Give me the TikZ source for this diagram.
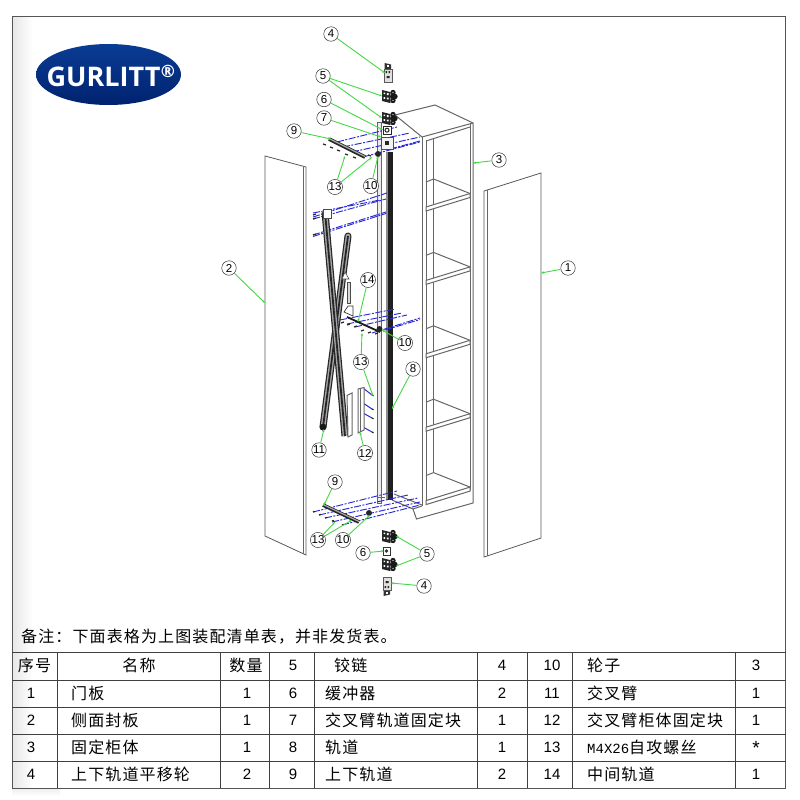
\documentclass[tikz,border=0pt]{standalone}
\usepackage{fontspec}
\setmainfont{Liberation Sans}
\newfontfamily\cjk[LetterSpace=7]{Noto Sans CJK SC}
\newfontfamily\monof{Liberation Mono}
\newfontfamily\logof{Open Sans}
\usetikzlibrary{arrows.meta}
\definecolor{leader}{HTML}{45D845}
\definecolor{bluedash}{HTML}{2A2AD8}
\definecolor{framegray}{HTML}{555555}
\definecolor{logotop}{HTML}{0A3C94}
\definecolor{logobot}{HTML}{00226F}
\tikzset{
  x=1pt,y=-1pt,
  frameline/.style={draw=framegray,line width=1pt},
  gridline/.style={draw=black!75,line width=.9pt},
  cellc/.style={inner sep=0pt,anchor=center,font=\fontsize{15}{16}\selectfont},
  celll/.style={inner sep=0pt,anchor=west,font=\fontsize{16}{17}\selectfont\cjk},
  cellh/.style={inner sep=0pt,anchor=center,font=\fontsize{16}{17}\selectfont\cjk},
  tag/.style={circle,draw=black!80,line width=.5pt,fill=white,minimum size=14.5pt,inner sep=0pt,font=\fontsize{11.5}{12}\selectfont},
  lead/.style={draw=leader,line width=.9pt,-{Stealth[length=3pt,width=2.4pt]}},
  panel/.style={draw=black!65,line width=.8pt,fill=white},
  cab/.style={draw=black!60,line width=1pt},
  dashb/.style={draw=bluedash,line width=.95pt,dash pattern=on 7pt off 1.5pt on 2pt off 1.5pt},
  screw/.style={draw=black!85,line width=1.2pt},
  hingepart/.pic={
    \fill[black!85] (0,0) -- (8,2) -- (8,13) -- (0,11) -- cycle;
    \fill[white] (1.5,2.5) rectangle (3.2,4.2) (4.8,3.2) rectangle (6.5,5) (1.5,7) rectangle (3.2,8.8) (4.8,7.6) rectangle (6.5,9.4);
    \fill[black!40] (8,2) rectangle (9.5,13);
    \fill[black!90] (11,2.5) circle (2.7) (13,6.5) circle (2.7) (11,10.5) circle (2.7) (10,6.5) circle (2);
    \fill[white] (11,2.5) circle (.7) (11,10.5) circle (.7);
  },
  wheelpart/.pic={
    \fill[black!80] (0.5,0) -- (7,1.5) -- (7,6) -- (0.5,6) -- cycle;
    \fill[white] (2.5,2.5) rectangle (5,4.5);
    \draw[black!65,fill=black!12,line width=.7pt] (0,6) rectangle (8,19);
    \fill[black!85] (1.5,8) rectangle (3.2,10) (4.6,8) rectangle (6.2,10) (2.5,13) rectangle (5.5,15);
  }
}
\begin{document}
\begin{tikzpicture}
\useasboundingbox (0,0) rectangle (800,800);
\fill[white] (0,0) rectangle (800,800);
% faint shading of the sheet's left edge
\shade[left color=black!9,right color=white] (13,18) rectangle (33,787);
\shade[top color=black!7,bottom color=white] (12,788) rectangle (60,796);
% sheet frame
\draw[frameline] (12,17) -- (785.5,17) -- (785.5,788) -- (12,788) -- cycle;

% logo
\shade[top color=logotop,bottom color=logobot] (108.5,74.5) ellipse [x radius=72.5,y radius=30.5];
\node[inner sep=0pt,text=white,font=\fontsize{27}{28}\selectfont\logof\bfseries] (logo) at (103.5,76.5) {GURLITT};
\node[inner sep=0pt,text=white,font=\fontsize{17}{18}\selectfont\logof\bfseries] (logor) at (168,71) {®};

% side panels
\draw[panel] (265,156) -- (306,167) -- (306,555) -- (265,536) -- cycle;
\draw[cab] (303,166.5) -- (303,553.5);
\draw[panel] (484,191) -- (541,173) -- (541,538) -- (484,557) -- cycle;
\draw[cab] (487,190) -- (487,556);

% cabinet carcass
\draw[cab] (395,115) -- (435,105) -- (473,123) -- (473,503) -- (416.5,519) -- (413,509) -- (392,500);
\draw[cab] (413,509) -- (422,506);
\draw[cab] (395,115) -- (422,137) -- (473,123);
\draw[cab] (394,494) -- (422,505);
\draw[cab] (422,137) -- (422,506);
\draw[cab] (426,140) -- (426,505);
\draw[cab] (470,124) -- (470,490);
\draw[cab] (426,141) -- (470,127);
\draw[cab] (433.5,138) -- (433.5,473);
\foreach \s in {0,1,2,3,4}{
  \pgfmathsetmacro\dy{73.4*\s}
  \draw[cab,fill=white] (426,207+\dy) -- (470,193.5+\dy) -- (470,197.5+\dy) -- (426,211+\dy) -- cycle;
  \draw[cab] (433.5,179+\dy) -- (470,193.5+\dy);
  \draw[cab] (426,182+\dy) -- (433.5,179+\dy);
}

% slide frame and track
\draw[cab,fill=black!8] (377,122) rectangle (381.5,503);
\draw[cab] (377,497) -- (385,497);
\fill[black!88] (385.5,152) rectangle (392.5,500);
\fill[black!45] (386,152) rectangle (387.5,500);

% dashed assembly axes
\draw[dashb] (337,142) -- (397,127);
\draw[dashb] (343,147) -- (410,133);
\draw[dashb] (352,152) -- (420,137);
\draw[dashb] (363,157) -- (420,142);
\draw[dashb] (390,149) -- (420,141);
\draw[dashb] (313,217) -- (387,193);
\draw[dashb] (313,213) -- (380,200);
\draw[dashb] (313,219) -- (386,199);
\draw[dashb] (313,235) -- (386,212);
\draw[dashb] (313,236.5) -- (386,213.5);
\draw[dashb] (340,320) -- (395,309);
\draw[dashb] (347,324) -- (402,313);
\draw[dashb] (355,327) -- (407,315);
\draw[dashb] (372,333) -- (420,318);
\draw[dashb] (385,330) -- (420,319.5);
\draw[dashb] (313,512) -- (397,491);
\draw[dashb] (319,515) -- (408,495);
\draw[dashb] (325,518) -- (418,498);
\draw[dashb] (332,522) -- (420,502);
\draw[dashb] (342,525) -- (420,505);
\draw[bluedash,line width=1pt] (363,388) -- (372,395);
\draw[bluedash,line width=1pt] (363,403) -- (372,409);
\draw[bluedash,line width=1pt] (363,413) -- (372,418);
\draw[bluedash,line width=1pt] (363,427) -- (372,432);

% scissor arms
\draw[black!85,line width=7pt,line cap=round] (348,236) -- (323,427);
\draw[black!35,line width=4.6pt,line cap=round] (348,236) -- (323,427);
\draw[black!85,line width=1.8pt] (348,236) -- (323,427);
\draw[black!85,line width=7pt] (325,212) -- (345,436);
\draw[black!35,line width=4.6pt] (325,212) -- (345,436);
\draw[black!85,line width=1.8pt] (325,212) -- (345,436);
\fill[black!90] (323,427) circle (3.4);
\draw[black!70,fill=white,line width=.6pt] (323,209) rectangle (331,218);
\draw[black!70,fill=white,line width=.6pt] (342,279) -- (345,272) -- (349,279) -- cycle;
\draw[black!70,fill=black!15,line width=.6pt] (347,282) rectangle (350,303);
\draw[black!80,fill=white,line width=.7pt] (344,312) -- (348,306) -- (353,306) -- (353,316) -- cycle;

% middle rail
\draw[black!90,line width=1.8pt] (347,317) -- (380,332);

% top and bottom rails
\draw[black!85,line width=3.6pt] (329,139) -- (365,157);
\draw[black!35,line width=1.2pt] (329,138.5) -- (365,156.5);
\draw[black!85,line width=3.6pt] (323,505) -- (359,522);
\draw[black!35,line width=1.2pt] (323,504.5) -- (359,521.5);

% bracket 12 and arm end strip
\draw[cab,fill=white] (358,389) -- (364,387.5) -- (364,430) -- (358,433) -- cycle;
\draw[cab] (360,389) -- (360,432);
\draw[cab,fill=white] (347,395.5) -- (352,393) -- (352,435) -- (348,437) -- cycle;

% screws
\foreach \p in {(323,144),(330,147),(337,150),(345,154),(353,157),(368,155)}{\draw[screw] \p -- ++(3,1);}
\foreach \p in {(313,215),(313,219),(313,235)}{\draw[screw] \p -- ++(3,-1);}
\foreach \p in {(341,323),(347,325),(354,327),(361,331),(368,333),(375,334)}{\draw[screw] \p -- ++(3,-1);}
\foreach \p in {(313,512),(319,515),(325,518),(332,521),(342,525)}{\draw[screw] \p -- ++(2,-.6);}
\foreach \p in {(372,395),(372,409),(372,418),(372,432)}{\draw[screw] \p -- ++(1.5,.8);}

% hardware
\pic at (382,90) {hingepart};
\pic at (382,112) {hingepart};
\pic at (382,530) {hingepart};
\pic at (382,558) {hingepart};
\pic at (384,63) {wheelpart};
\pic[yscale=-1] at (383,596) {wheelpart};
% buffers and blocks
\draw[black!85,fill=white,line width=1pt] (383,126.5) rectangle (391.5,134);
\draw[black!85,line width=1pt] (387,130.2) circle (2);
\draw[black!70,fill=black!5,line width=.9pt] (381,137) rectangle (393,149);
\fill[black!85] (384.5,140.5) rectangle (389,145);
\draw[black!80,fill=white,line width=.8pt] (383,547) rectangle (390,555);
\fill[black!80] (386.5,551) circle (1.8);
% rollers
\fill[black!85] (378,154) circle (3);
\fill[black!85] (379.5,329) circle (3);
\fill[black!85] (369,513) circle (3);

% callouts
\node[tag] (t4a) at (331,34) {4};
\node[tag] (t5a) at (323,76) {5};
\node[tag] (t6a) at (324,99.5) {6};
\node[tag] (t7) at (324,118) {7};
\node[tag] (t9a) at (294,131) {9};
\node[tag] (t13a) at (335,187) {13};
\node[tag] (t10a) at (371,186) {10};
\node[tag] (t3) at (499,160) {3};
\node[tag] (t2) at (229,268) {2};
\node[tag] (t1) at (568,268) {1};
\node[tag] (t14) at (368,280) {14};
\node[tag] (t10b) at (405,343) {10};
\node[tag] (t8) at (413,369) {8};
\node[tag] (t13b) at (361,362) {13};
\node[tag] (t11) at (319,450) {11};
\node[tag] (t12) at (365,453) {12};
\node[tag] (t9b) at (335,482) {9};
\node[tag] (t13c) at (318,540) {13};
\node[tag] (t10c) at (343,540) {10};
\node[tag] (t5b) at (427,554) {5};
\node[tag] (t6b) at (363,553) {6};
\node[tag] (t4b) at (424,586) {4};

\coordinate (e4a) at (385,73);
\coordinate (e5a) at (382,96);
\coordinate (e5b) at (382,118);
\coordinate (e6a) at (383,130);
\coordinate (e7) at (381,137);
\coordinate (e9a) at (331,139);
\coordinate (e13a) at (345,156);
\coordinate (e13b) at (372,157);
\coordinate (e10a) at (378,156);
\coordinate (e3) at (473,163);
\coordinate (e2) at (265,303);
\coordinate (e1) at (541,273);
\coordinate (e14) at (358,322);
\coordinate (e10b) at (382,330);
\coordinate (e8) at (392,409);
\coordinate (e13c) at (362,333);
\coordinate (e13d) at (373,396);
\coordinate (e11) at (324,429);
\coordinate (e12) at (360,432);
\coordinate (e9b) at (324,505);
\coordinate (e13e) at (335,522);
\coordinate (e13f) at (352,520);
\coordinate (e10c) at (370,515);
\coordinate (e5c) at (396,536);
\coordinate (e5d) at (396,566);
\coordinate (e6b) at (384,551);
\coordinate (e4b) at (391,583);

\draw[lead] (t4a) -- (e4a);
\draw[lead] (t5a) -- (e5a);
\draw[lead] (t5a) -- (e5b);
\draw[lead] (t6a) -- (e6a);
\draw[lead] (t7) -- (e7);
\draw[lead] (t9a) -- (e9a);
\draw[lead] (t13a) -- (e13a);
\draw[lead] (t13a) -- (e13b);
\draw[lead] (t10a) -- (e10a);
\draw[lead] (t3) -- (e3);
\draw[lead] (t2) -- (e2);
\draw[lead] (t1) -- (e1);
\draw[lead] (t14) -- (e14);
\draw[lead] (t10b) -- (e10b);
\draw[lead] (t8) -- (e8);
\draw[lead] (t13b) -- (e13c);
\draw[lead] (t13b) -- (e13d);
\draw[lead] (t11) -- (e11);
\draw[lead] (t12) -- (e12);
\draw[lead] (t9b) -- (e9b);
\draw[lead] (t13c) -- (e13e);
\draw[lead] (t13c) -- (e13f);
\draw[lead] (t10c) -- (e10c);
\draw[lead] (t5b) -- (e5c);
\draw[lead] (t5b) -- (e5d);
\draw[lead] (t6b) -- (e6b);
\draw[lead] (t4b) -- (e4b);

% note
\node[celll] (note) at (21,637) {备注：下面表格为上图装配清单表，并非发货表。};

% table grid
\foreach \y in {652,680,707,734,761}{\draw[gridline] (12,\y) -- (785.5,\y);}
\foreach \x in {57,220,269.5,314,477.5,527.5,572,735.5}{\draw[gridline] (\x,652) -- (\x,788);}

% table rows
\node[cellh] (h1) at (34.5,665.5) {序号};
\node[cellh] (h2) at (139,665.5) {名称};
\node[cellh] (h3) at (246,665.5) {数量};
\node[cellc] (a4) at (293,665.5) {5};
\node[celll] (a5) at (334,665.5) {铰链};
\node[cellc] (a6) at (502,665.5) {4};
\node[cellc] (a7) at (552,665.5) {10};
\node[celll] (a8) at (587,665.5) {轮子};
\node[cellc] (a9) at (756,665.5) {3};

\node[cellc] (b1) at (31,693) {1};
\node[celll] (b2) at (71,693) {门板};
\node[cellc] (b3) at (247,693) {1};
\node[cellc] (b4) at (293,693) {6};
\node[celll] (b5) at (325,693) {缓冲器};
\node[cellc] (b6) at (502,693) {2};
\node[cellc] (b7) at (552,693) {11};
\node[celll] (b8) at (587,693) {交叉臂};
\node[cellc] (b9) at (756,693) {1};

\node[cellc] (c1) at (31,720) {2};
\node[celll] (c2) at (71,720) {侧面封板};
\node[cellc] (c3) at (247,720) {1};
\node[cellc] (c4) at (293,720) {7};
\node[celll] (c5) at (325,720) {交叉臂轨道固定块};
\node[cellc] (c6) at (502,720) {1};
\node[cellc] (c7) at (552,720) {12};
\node[celll] (c8) at (587,720) {交叉臂柜体固定块};
\node[cellc] (c9) at (756,720) {1};

\node[cellc] (d1) at (31,747) {3};
\node[celll] (d2) at (71,747) {固定柜体};
\node[cellc] (d3) at (247,747) {1};
\node[cellc] (d4) at (293,747) {8};
\node[celll] (d5) at (325,747) {轨道};
\node[cellc] (d6) at (502,747) {1};
\node[cellc] (d7) at (552,747) {13};
\node[celll] (d8) at (587,747) {{\monof\fontsize{14}{15}\selectfont M4X26}自攻螺丝};
\node[cellc,font=\fontsize{19}{19}\selectfont] (d9) at (756,748) {*};

\node[cellc] (e1n) at (31,774) {4};
\node[celll] (e2n) at (71,774) {上下轨道平移轮};
\node[cellc] (e3n) at (247,774) {2};
\node[cellc] (e4n) at (293,774) {9};
\node[celll] (e5n) at (325,774) {上下轨道};
\node[cellc] (e6n) at (502,774) {2};
\node[cellc] (e7n) at (552,774) {14};
\node[celll] (e8n) at (587,774) {中间轨道};
\node[cellc] (e9n) at (756,774) {1};
\end{tikzpicture}
\end{document}
